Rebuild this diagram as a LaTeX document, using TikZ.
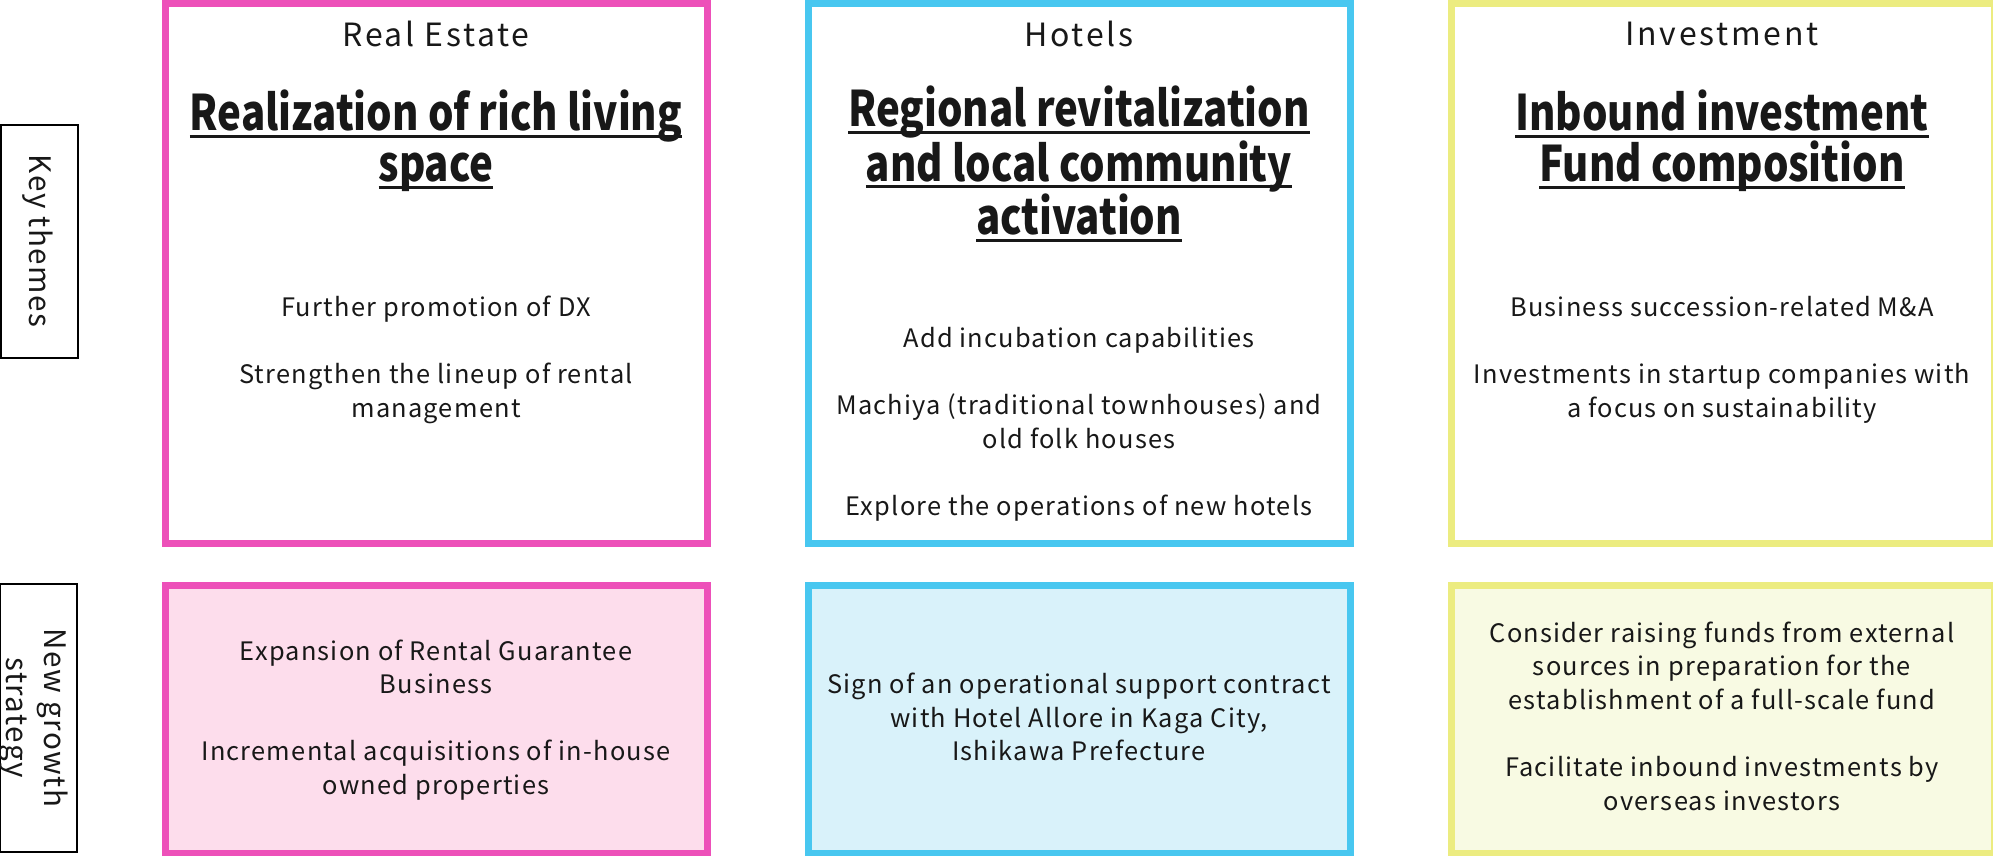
\documentclass[tikz,border=0pt]{standalone}
\usepackage{fontspec}
\setmainfont{Noto Sans CJK JP}
\newfontfamily\bodyfont[LetterSpace=4.8]{Noto Sans CJK JP}
\newfontfamily\headfont[LetterSpace=8.5]{Noto Sans CJK JP}
\newfontfamily\titlefont[FakeStretch=0.82]{Noto Sans CJK JP}
\definecolor{rePink}{RGB}{237,80,185}
\definecolor{reFill}{RGB}{253,221,236}
\definecolor{hoBlue}{RGB}{72,199,240}
\definecolor{hoFill}{RGB}{217,242,250}
\definecolor{inYellow}{RGB}{236,236,128}
\definecolor{inFill}{RGB}{248,250,227}
\definecolor{ink}{RGB}{24,24,24}
% underline at a fixed depth below the baseline, crossing descenders
\newcommand\ulbox[1]{\setbox0\hbox{#1}\rlap{\rule[-3.6pt]{\wd0}{1.5pt}}\box0}
\tikzset{
  panel/.style={draw=#1, line width=3.5pt},
  header/.style={text=ink, font=\headfont\fontsize{16}{19}\selectfont, inner sep=0pt},
  title/.style={text=ink, font=\titlefont\fontsize{24.5}{25.3}\selectfont\bfseries, align=center, inner sep=0pt},
  body/.style={text=ink, font=\bodyfont\fontsize{12.7}{16.8}\selectfont, align=center, inner sep=0pt},
  rowlabel/.style={draw=black, line width=1pt},
  rowtext/.style={text=ink, font=\bodyfont\fontsize{14.8}{19}\selectfont, align=center, inner sep=0pt, rotate=-90},
}
\begin{document}
\begin{tikzpicture}[x=0.5pt, y=-0.5pt]
\useasboundingbox (0,0) rectangle (1993,856);

% row labels
\draw[rowlabel] (1,125) rectangle (78,358);
\node[rowtext] (lblKey) at (38,241) {Key themes};
\draw[rowlabel] (0,584) rectangle (77,852);
\node[rowtext] (lblNew) at (34,718) {New growth\\strategy};

% key-theme panels
\draw[panel=rePink] (165,3.8) rectangle (707.5,543.3);
\draw[panel=hoBlue] (808,3.8) rectangle (1350.3,543.3);
\draw[panel=inYellow] (1451.3,3.8) rectangle (1994,543.3);

% growth-strategy panels
\draw[panel=rePink, fill=reFill] (165,585.3) rectangle (707.5,853);
\draw[panel=hoBlue, fill=hoFill] (808,585.3) rectangle (1350.3,853);
\draw[panel=inYellow, fill=inFill] (1451.3,585.3) rectangle (1994,853);

% Real Estate
\node[header] (reHead) at (436,34) {Real Estate};
\node[title] (reTitle) at (436,141) {\ulbox{Realization of rich living}\\\ulbox{space}};
\node[body] (reBody) at (436,360) {Further promotion of DX\\[16.8pt]Strengthen the lineup of rental\\management};
\node[body] (reStrat) at (436,720) {Expansion of Rental Guarantee\\Business\\[16.8pt]Incremental acquisitions of in-house\\owned properties};

% Hotels
\node[header] (hoHead) at (1079,34) {Hotels};
\node[title] (hoTitle) at (1079,164) {\ulbox{Regional revitalization}\\\ulbox{and local community}\\\ulbox{activation}};
\node[body] (hoBody) at (1079,424) {Add incubation capabilities\\[16.8pt]Machiya (traditional townhouses) and\\old folk houses\\[16.8pt]Explore the operations of new hotels};
\node[body] (hoStrat) at (1079,717) {Sign of an operational support contract\\with Hotel Allore in Kaga City,\\Ishikawa Prefecture};

% Investment
\node[header] (inHead) at (1722,34) {Investment};
\node[title] (inTitle) at (1722,141) {\ulbox{Inbound investment}\\\ulbox{Fund composition}};
\node[body] (inBody) at (1722,360) {Business succession-related M\&A\\[16.8pt]Investments in startup companies with\\a focus on sustainability};
\node[body] (inStrat) at (1722,716) {Consider raising funds from external\\sources in preparation for the\\establishment of a full-scale fund\\[16.8pt]Facilitate inbound investments by\\overseas investors};
\end{tikzpicture}
\end{document}
